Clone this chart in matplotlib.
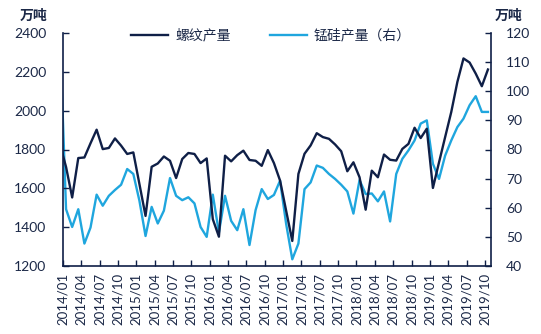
import matplotlib
matplotlib.use("Agg")
import matplotlib.pyplot as plt
import numpy as np

plt.rcParams['font.family'] = ['Lato', 'Noto Sans CJK SC', 'DejaVu Sans']

# monthly data: 2013/12 (clipped at left edge) .. 2019/10
months = ["2013/12"] + [f"{y}/{m:02d}" for y in range(2014, 2020) for m in range(1, 13)][:70]

rebar = [1826, 1710, 1553, 1756, 1759, 1832, 1902, 1802, 1808, 1857, 1820, 1777, 1785,
         1622, 1458, 1711, 1728, 1764, 1742, 1653, 1751, 1782, 1777, 1730, 1754,
         1441, 1351, 1768, 1739, 1771, 1794, 1746, 1742, 1716, 1797, 1730, 1640,
         1484, 1329, 1674, 1778, 1821, 1884, 1864, 1855, 1826, 1791, 1688, 1734,
         1657, 1490, 1691, 1657, 1774, 1747, 1743, 1803, 1829, 1912, 1859, 1907,
         1602, 1734, 1864, 1993, 2148, 2269, 2248, 2191, 2126, 2212]

simn = [119, 59.5, 53.4, 59.5, 47.7, 53.2, 64.5, 60.7, 64.1, 66.1, 67.9, 73.3, 71.6,
        62.4, 50.3, 60.3, 54.6, 59.0, 70.2, 64.1, 62.6, 63.6, 61.5, 53.4, 50.0,
        64.5, 51.5, 64.1, 55.5, 52.3, 59.5, 47.2, 59.2, 66.4, 63.0, 64.4, 69.3,
        54.4, 42.3, 47.7, 66.4, 68.7, 74.5, 73.7, 71.6, 69.9, 67.9, 65.6, 58.0,
        69.5, 64.7, 64.9, 62.2, 65.6, 55.3, 71.6, 76.8, 79.7, 83.1, 88.9, 90.0,
        75.1, 69.9, 77.9, 83.1, 87.7, 90.6, 95.2, 98.3, 92.9, 92.9]

tick_labels = months[1::3]

navy = '#0f1f47'
cyan = '#1fa6de'
txt = '#1b2847'

fig = plt.figure(figsize=(5.41, 3.34), dpi=100)
ax = fig.add_axes([63/541, 1-266/334, (491-63)/541, (266-33)/334])
ax2 = ax.twinx()

x = np.arange(len(months)) - 0.5
l1, = ax.plot(x, rebar, color=navy, lw=1.7, label='螺纹产量', zorder=3)
l2, = ax2.plot(x, simn, color=cyan, lw=1.7, label='锰硅产量（右）', zorder=2)
ax.set_zorder(ax2.get_zorder() + 1)
ax.patch.set_visible(False)

ax.set_xlim(0, 70)
ax.set_ylim(1200, 2400)
ax2.set_ylim(40, 120)
ax.set_yticks(np.arange(1200, 2401, 200))
ax2.set_yticks(np.arange(40, 121, 10))
ax.set_xticks(np.arange(0, 70, 3))
ax.set_xticklabels(tick_labels, rotation=90)

for a in (ax, ax2):
    for s in a.spines.values():
        s.set_color(navy)
        s.set_linewidth(1.2)
    a.spines['top'].set_visible(False)
ax.spines['right'].set_visible(False)
ax2.spines['left'].set_visible(False)
ax2.spines['bottom'].set_visible(False)

ax.tick_params(axis='y', direction='in', length=4, width=1, color=navy, labelsize=10, labelcolor=txt, pad=12)
ax.tick_params(axis='x', direction='in', length=4, width=1, color=navy, labelsize=9.5, labelcolor=txt, pad=5)
ax2.tick_params(axis='y', direction='in', length=4, width=1, color=navy, labelsize=10, labelcolor=txt, pad=11)

fig.text(34/541, 1-15/334, '万吨', ha='center', va='center', fontsize=10, fontweight='bold', color=txt)
fig.text(509/541, 1-15/334, '万吨', ha='center', va='center', fontsize=10, fontweight='bold', color=txt)

fig.legend([l1, l2], ['螺纹产量', '锰硅产量（右）'], loc='center', ncol=2,
           bbox_to_anchor=(271/541, 1-35/334), frameon=False, fontsize=10,
           handlelength=2.7, handletextpad=0.5, columnspacing=2.8, labelcolor=txt)

fig.savefig('out.png', dpi=100)
